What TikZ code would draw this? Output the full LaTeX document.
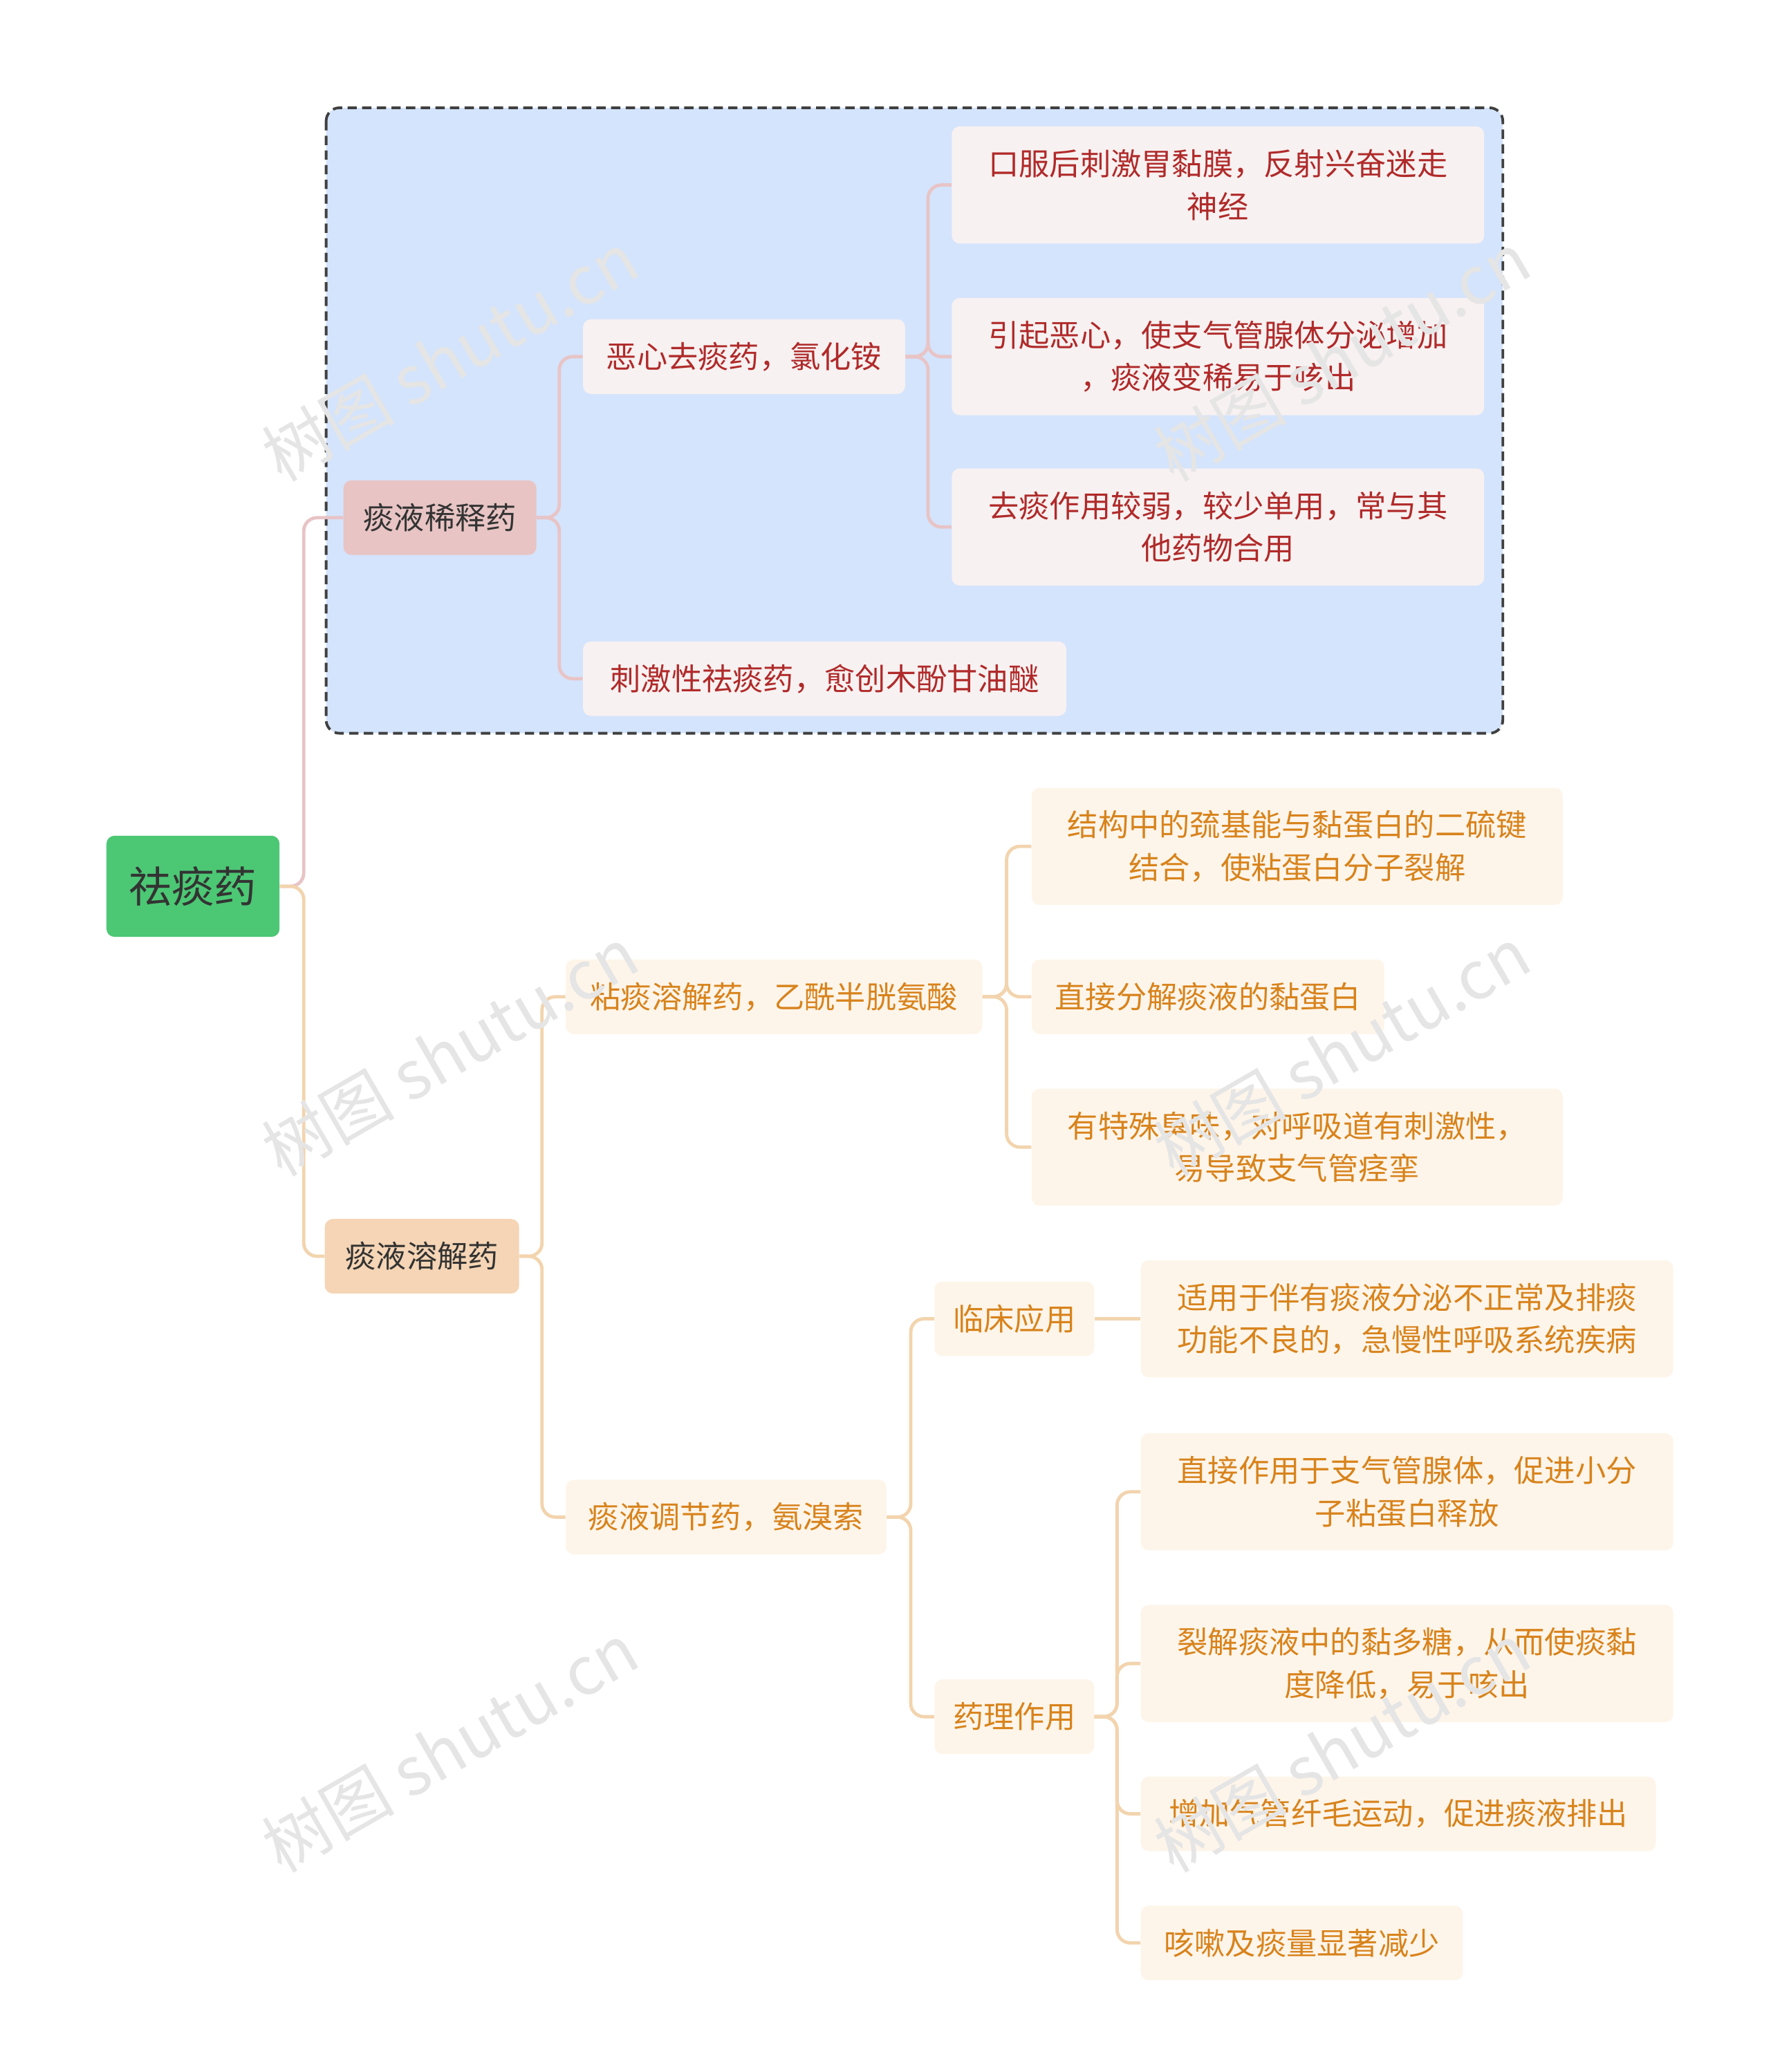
\documentclass[tikz,border=0pt]{standalone}
\usepackage{fontspec}
\setmainfont{Noto Sans CJK SC}
\begin{document}
\begin{tikzpicture}[x=1pt,y=-1pt,
 box/.style={rounded corners=6pt,inner sep=0pt,align=center,font=\fontsize{23}{32}\selectfont},
 rl/.style={box,fill=redleaf,text=redtxt},
 ol/.style={box,fill=orleaf,text=ortxt},
 cp/.style={draw=pinkln,line width=2.5pt,rounded corners=10pt},
 co/.style={draw=tanln,line width=2.5pt,rounded corners=10pt},
 wm/.style={text=black!10,rotate=30,font=\fontsize{50}{50}\selectfont}]
\definecolor{redleaf}{HTML}{F8F1F1}
\definecolor{redtxt}{HTML}{B02A2A}
\definecolor{orleaf}{HTML}{FEF5EA}
\definecolor{ortxt}{HTML}{D8831C}
\definecolor{pinkln}{HTML}{E8C4C6}
\definecolor{tanln}{HTML}{F2D4AE}
\useasboundingbox (0,0) rectangle (1330,1557);
\fill[white] (0,0) rectangle (1330,1557);
\draw[fill={rgb,255:red,212;green,228;blue,252},dash pattern=on 7pt off 4pt,line width=2pt,draw=black!75,rounded corners=10pt] (245,81) rectangle (1129,551);
% main
\node[box,fill={rgb,255:red,76;green,199;blue,116},text=black!80,minimum width=130,minimum height=76,font=\fontsize{32}{36}\selectfont] (root) at (145,666) {祛痰药};
\node[box,fill={rgb,255:red,232;green,196;blue,196},text=black!80,minimum width=145,minimum height=56] (a) at (330.5,389) {痰液稀释药};
\node[box,fill={rgb,255:red,245;green,213;blue,181},text=black!80,minimum width=146,minimum height=56] (b) at (317,944) {痰液溶解药};
% a branch
\node[rl,minimum width=242,minimum height=56] (a1) at (559,268) {恶心去痰药，氯化铵};
\node[rl,minimum width=363,minimum height=56] (a2) at (619.5,510) {刺激性祛痰药，愈创木酚甘油醚};
\node[rl,minimum width=400,minimum height=88] (a11) at (915,139) {口服后刺激胃黏膜，反射兴奋迷走\\神经};
\node[rl,minimum width=400,minimum height=88] (a12) at (915,268) {引起恶心，使支气管腺体分泌增加\\，痰液变稀易于咳出};
\node[rl,minimum width=400,minimum height=88] (a13) at (915,396) {去痰作用较弱，较少单用，常与其\\他药物合用};
% b branch
\node[ol,minimum width=313,minimum height=56] (b1) at (581.5,749) {粘痰溶解药，乙酰半胱氨酸};
\node[ol,minimum width=241,minimum height=56] (b2) at (545.5,1140) {痰液调节药，氨溴索};
\node[ol,minimum width=399,minimum height=88] (b11) at (974.5,636) {结构中的巯基能与黏蛋白的二硫键\\结合，使粘蛋白分子裂解};
\node[ol,minimum width=265,minimum height=56] (b12) at (907.5,749) {直接分解痰液的黏蛋白};
\node[ol,minimum width=399,minimum height=88] (b13) at (974.5,862) {有特殊臭味，对呼吸道有刺激性，\\易导致支气管痉挛};
\node[ol,minimum width=120,minimum height=56] (c1) at (762,991) {临床应用};
\node[ol,minimum width=120,minimum height=56] (c2) at (762,1290) {药理作用};
\node[ol,minimum width=400,minimum height=88] (c11) at (1057,991) {适用于伴有痰液分泌不正常及排痰\\功能不良的，急慢性呼吸系统疾病};
\node[ol,minimum width=400,minimum height=88] (c21) at (1057,1121) {直接作用于支气管腺体，促进小分\\子粘蛋白释放};
\node[ol,minimum width=400,minimum height=88] (c22) at (1057,1250) {裂解痰液中的黏多糖，从而使痰黏\\度降低，易于咳出};
\node[ol,minimum width=387,minimum height=56] (c23) at (1050.5,1363) {增加气管纤毛运动，促进痰液排出};
\node[ol,minimum width=242,minimum height=56] (c24) at (978,1460) {咳嗽及痰量显著减少};
% connectors
\draw[cp] (root.east) -- ++(18,0) |- (a.west);
\draw[co] (root.east) -- ++(18,0) |- (b.west);
\foreach \c in {a1,a2} \draw[cp] (a.east) -- ++(17,0) |- (\c.west);
\foreach \c in {a11,a12,a13} \draw[cp] (a1.east) -- ++(17,0) |- (\c.west);
\foreach \c in {b1,b2} \draw[co] (b.east) -- ++(17,0) |- (\c.west);
\foreach \c in {b11,b12,b13} \draw[co] (b1.east) -- ++(18,0) |- (\c.west);
\foreach \c in {c1,c2} \draw[co] (b2.east) -- ++(18,0) |- (\c.west);
\draw[co] (c1.east) -- (c11.west);
\foreach \c in {c21,c22,c23,c24} \draw[co] (c2.east) -- ++(17,0) |- (\c.west);
% watermarks
\foreach \p in {(338,268),(1008,268),(338,790),(1008,790),(338,1313),(1008,1313)}
 \node[wm] at \p {树图 shutu.cn};
\end{tikzpicture}
\end{document}
